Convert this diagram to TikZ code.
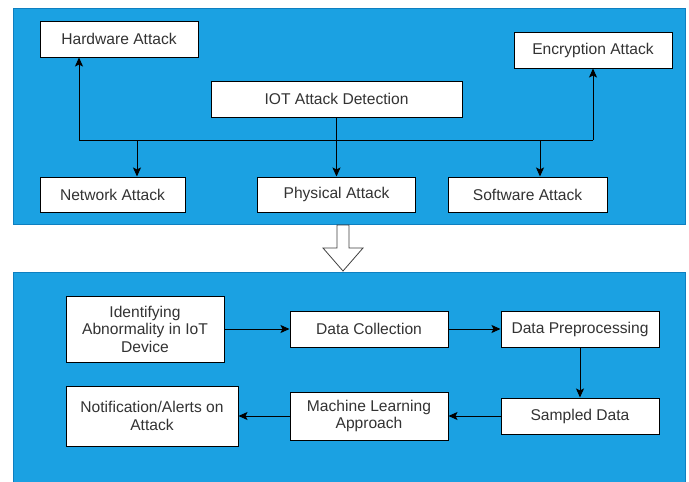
\documentclass[tikz,border=0pt]{standalone}
\usepackage{fontspec}
\setmainfont{Liberation Sans}
\usetikzlibrary{arrows.meta}
\definecolor{panelblue}{HTML}{1BA1E2}
\definecolor{paneledge}{HTML}{0E7FC0}
\definecolor{labelgrey}{HTML}{333333}
\tikzset{
  panel/.style={fill=panelblue, draw=paneledge, line width=0.8pt},
  box/.style={draw=black, fill=white, line width=1pt, inner sep=0pt,
    text=labelgrey, align=center,
    font=\fontsize{15.6}{17.5}\selectfont},
  arr/.style={draw=black, line width=1pt, -{Stealth[length=9pt,width=8pt,inset=2pt]}},
  wire/.style={draw=black, line width=1pt},
  bigarrow/.style={draw=black!75, fill=white, line width=0.8pt, line join=miter}
}
\begin{document}
\begin{tikzpicture}[x=1pt,y=-1pt]
  \useasboundingbox (0,0) rectangle (689,482);
  \fill[white] (0,0) rectangle (689,482);

  % background panels
  \draw[panel] (13,8) rectangle (685,224);
  \draw[panel] (13,272) rectangle (685,484);

  % hollow arrow between the two panels
  \draw[bigarrow] (337,225) -- (349,225) -- (349,248) -- (363,248)
     -- (343,271) -- (323,248) -- (337,248) -- cycle;

  % attack categories
  \node[box, minimum width=158pt, minimum height=36pt] (hw)   at (119,39)   {Hardware Attack};
  \node[box, minimum width=251pt, minimum height=36pt] (det)  at (336.5,99) {IOT Attack Detection};
  \node[box, minimum width=158pt, minimum height=36pt] (enc)  at (593,50)   {Encryption Attack};
  \node[box, minimum width=145pt, minimum height=35pt] (net)  at (112.5,194.5) {Network Attack};
  \node[box, minimum width=158pt, minimum height=35pt] (phys) at (336.5,194.5) {Physical Attack};
  \node[box, minimum width=159pt, minimum height=35pt] (soft) at (527.5,194.5) {Software Attack};

  % distribution bus
  \coordinate (busL) at (79,140);
  \coordinate (busR) at (593,140);
  \coordinate (netJ) at (137,140);
  \coordinate (softJ) at (540,140);
  \draw[wire] (busL) -- (busR);
  \draw[arr] (busL) -- (busL |- hw.south);
  \draw[arr] (busR) -- (busR |- enc.south);
  \draw[arr] (netJ) -- (netJ |- net.north);
  \draw[arr] (softJ) -- (softJ |- soft.north);
  \draw[arr] (det.south) -- (phys.north);

  % detection pipeline
  \node[box, minimum width=158pt, minimum height=66pt] (ident) at (145,329)
    {Identifying\\Abnormality in IoT\\Device};
  \node[box, minimum width=158pt, minimum height=36pt] (coll)  at (369,329) {Data Collection};
  \node[box, minimum width=158pt, minimum height=36pt] (prep)  at (580,329) {Data Preprocessing};
  \node[box, minimum width=158pt, minimum height=36pt] (samp)  at (580,416) {Sampled Data};
  \node[box, minimum width=158pt, minimum height=48pt] (ml)    at (369,416)
    {Machine Learning\\Approach};
  \node[box, minimum width=172pt, minimum height=60pt] (notif) at (152,416)
    {Notification/Alerts on\\Attack};

  \draw[arr] (ident) -- (coll);
  \draw[arr] (coll) -- (prep);
  \draw[arr] (prep) -- (samp);
  \draw[arr] (samp) -- (ml);
  \draw[arr] (ml) -- (notif);
\end{tikzpicture}
\end{document}
